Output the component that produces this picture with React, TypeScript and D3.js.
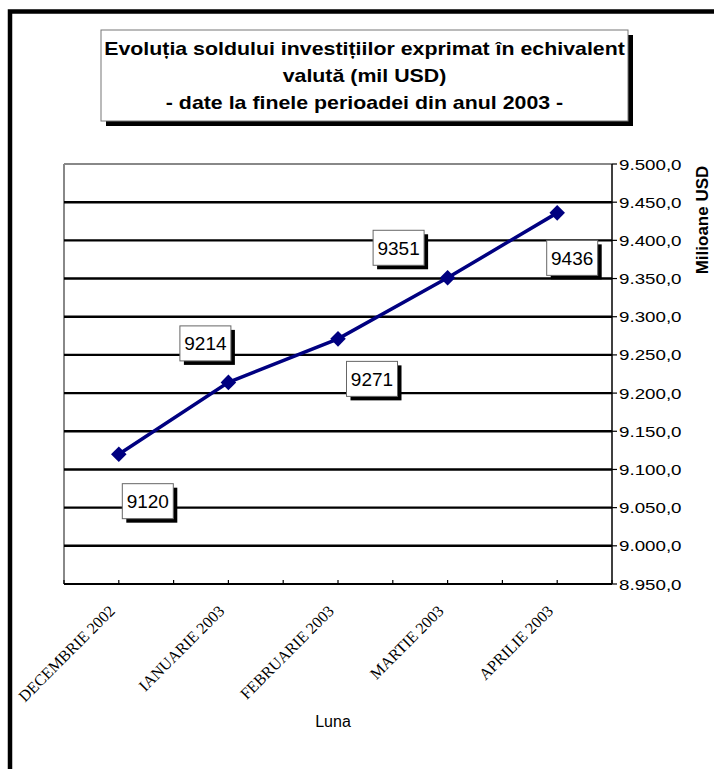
import React from 'react';
import * as d3 from 'd3';

// chart data
const months = ['DECEMBRIE 2002', 'IANUARIE 2003', 'FEBRUARIE 2003', 'MARTIE 2003', 'APRILIE 2003'];
const values = [9120, 9214, 9271, 9351, 9436];
const yTicks = [8950, 9000, 9050, 9100, 9150, 9200, 9250, 9300, 9350, 9400, 9450, 9500];
const titleLines = [
  'Evoluția soldului investițiilor exprimat în echivalent',
  'valută (mil USD)',
  '- date la finele perioadei din anul 2003 -',
];

// where each value box sits relative to its point
const labelOffsets = [
  [29, 47],
  [-23, -39],
  [34, 40],
  [-49, -30],
  [15, 45],
];

const W = 714;
const H = 769;
const plot = { left: 64, right: 612, top: 164, bottom: 584 };
const SX = 1.22; // the source is stretched horizontally

const ro = d3.formatLocale({ decimal: ',', thousands: '.', grouping: [3], currency: ['', ''] });
const fmt = ro.format(',.1f');

const App: React.FC = () => {
  const x = d3.scaleBand<string>().domain(months).range([plot.left, plot.right]);
  const cx = (m: string) => (x(m) || 0) + x.bandwidth() / 2;
  const y = d3.scaleLinear().domain([8950, 9500]).range([plot.bottom, plot.top]);

  const line = d3.line<number>()
    .x((_, i) => cx(months[i]))
    .y(d => y(d));

  // ticks at band edges and band centres
  const xTicks: number[] = [];
  months.forEach(m => {
    xTicks.push(x(m) || 0);
    xTicks.push(cx(m));
  });
  xTicks.push(plot.right);

  const sans = 'Arial, "Liberation Sans", sans-serif';
  const serif = '"Times New Roman", "Liberation Serif", serif';

  return (
    <svg width={W} height={H} style={{ position: 'absolute', left: 0, top: 0, background: '#fff' }}>
      {/* outer frame */}
      <rect x={10} y={11.5} width={740} height={800} fill="none" stroke="#000" strokeWidth={4.5} />

      {/* title box */}
      <rect x={106} y={35} width={527} height={91} fill="#000" />
      <rect x={101} y={30} width={527} height={91} fill="#fff" stroke="#777" strokeWidth={1} />
      {titleLines.map((t, i) => (
        <text
          key={i}
          transform={`translate(364.5,${54.5 + i * 27}) scale(${SX},1)`}
          textAnchor="middle"
          fontFamily={sans}
          fontWeight="bold"
          fontSize={17.5}
        >
          {t}
        </text>
      ))}

      {/* plot frame */}
      <line x1={plot.left} x2={plot.right} y1={plot.top} y2={plot.top} stroke="#888" strokeWidth={2} />
      <line x1={plot.left} x2={plot.left} y1={plot.top} y2={plot.bottom} stroke="#888" strokeWidth={2} />

      {/* gridlines */}
      {yTicks.filter(v => v > 8950 && v < 9500).map(v => (
        <line key={v} x1={plot.left} x2={plot.right} y1={y(v)} y2={y(v)} stroke="#000" strokeWidth={2.4} />
      ))}

      {/* right axis */}
      <line x1={plot.right} x2={plot.right} y1={plot.top} y2={plot.bottom} stroke="#000" strokeWidth={1.5} />
      {yTicks.map(v => (
        <g key={v}>
          <line x1={plot.right} x2={plot.right + 5} y1={y(v)} y2={y(v)} stroke="#000" strokeWidth={1.2} />
          <text
            transform={`translate(${plot.right + 7},${y(v) + 5.5}) scale(1.25,1)`}
            fontFamily={sans}
            fontSize={15}
          >
            {fmt(v)}
          </text>
        </g>
      ))}
      <text
        transform="translate(708,220) rotate(-90)"
        textAnchor="middle"
        fontFamily={sans}
        fontWeight="bold"
        fontSize={17}
      >
        Milioane USD
      </text>

      {/* bottom axis */}
      <line x1={plot.left} x2={plot.right} y1={plot.bottom} y2={plot.bottom} stroke="#000" strokeWidth={2} />
      {xTicks.map((t, i) => (
        <line key={i} x1={t} x2={t} y1={plot.bottom} y2={plot.bottom - 4} stroke="#000" strokeWidth={1.2} />
      ))}
      {months.map(m => (
        <text
          key={m}
          transform={`translate(${cx(m) - 3},${plot.bottom + 28}) rotate(-45)`}
          textAnchor="end"
          fontFamily={serif}
          fontSize={16}
        >
          {m}
        </text>
      ))}
      <text x={333} y={727} textAnchor="middle" fontFamily={sans} fontSize={16}>Luna</text>

      {/* series */}
      <path d={line(values) || ''} fill="none" stroke="#000080" strokeWidth={3.5} />
      {values.map((v, i) => (
        <rect
          key={i}
          x={cx(months[i]) - 5.5}
          y={y(v) - 5.5}
          width={11}
          height={11}
          fill="#000080"
          transform={`rotate(45,${cx(months[i])},${y(v)})`}
        />
      ))}

      {/* value boxes */}
      {values.map((v, i) => {
        const bx = cx(months[i]) + labelOffsets[i][0];
        const by = y(v) + labelOffsets[i][1];
        return (
          <g key={i}>
            <rect x={bx - 25.5 + 4} y={by - 17.5 + 4} width={51} height={35} fill="#000" />
            <rect x={bx - 25.5} y={by - 17.5} width={51} height={35} fill="#fff" stroke="#666" strokeWidth={1} />
            <text x={bx} y={by + 7} textAnchor="middle" fontFamily={sans} fontSize={19}>{v}</text>
          </g>
        );
      })}
    </svg>
  );
};

export default App;
